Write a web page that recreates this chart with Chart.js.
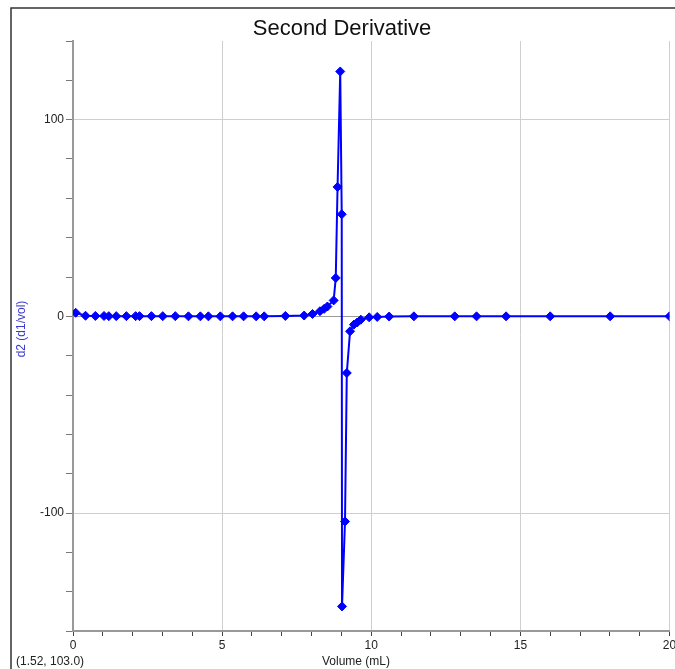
<!DOCTYPE html>
<html>
<head>
<meta charset="utf-8">
<script src="https://cdn.jsdelivr.net/npm/chart.js@4/dist/chart.umd.min.js"></script>
<style>
  html, body { margin: 0; padding: 0; background: #fff; }
  #wrap { width: 675px; height: 669px; }
</style>
</head>
<body>
<div id="wrap"><canvas id="chart" width="675" height="669"></canvas></div>
<script>
const volume = [0.09, 0.42, 0.75, 1.04, 1.20, 1.45, 1.79, 2.10, 2.23, 2.63,
  3.01, 3.43, 3.87, 4.27, 4.54, 4.94, 5.35, 5.72, 6.14, 6.41,
  7.12, 7.75, 8.03, 8.28, 8.42, 8.53, 8.74, 8.81, 8.87, 8.96,
  9.01, 9.02, 9.12, 9.18, 9.29, 9.42, 9.53, 9.65, 9.93, 10.2,
  10.6, 11.43, 12.8, 13.53, 14.52, 16.0, 18.01, 20.0];
const d2 = [1.8, 0.3, 0.2, 0.2, 0.1, 0.1, 0.1, 0.1, 0.1, 0.1,
  0.1, 0.1, 0, 0, 0, 0, 0, 0, 0, 0,
  0.2, 0.4, 1.2, 2.6, 3.8, 5.0, 8.1, 19.5, 65.8, 124.5,
  51.9, -147.5, -104.3, -28.8, -7.6, -4.2, -3.1, -1.7, -0.5, -0.3,
  -0.1, 0, 0, 0, 0, 0, 0, 0];

const chartTitle = "Second Derivative";
const xLabel = "Volume (mL)";
const yLabel = "d2 (d1/vol)";
const cursorText = "(1.52, 103.0)";

const xMin = 0, xMax = 20, xStep = 1, xMajor = 5;
const yMin = -160, yMax = 140, yStep = 20, yMajor = 100;

const FONT = "'Liberation Sans', Arial, sans-serif";

// frame, title and the free-standing labels
const decor = {
  id: "decor",
  beforeDraw(chart) {
    const ctx = chart.ctx;
    ctx.save();
    ctx.fillStyle = "#fff";
    ctx.fillRect(0, 0, chart.width, chart.height);
    ctx.restore();
  },
  afterDraw(chart) {
    const ctx = chart.ctx;
    ctx.save();
    ctx.strokeStyle = "#333";
    ctx.lineWidth = 1.5;
    ctx.strokeRect(11, 8, chart.width + 10, chart.height + 10);

    ctx.fillStyle = "#111";
    ctx.font = "22px " + FONT;
    ctx.textAlign = "center";
    ctx.textBaseline = "alphabetic";
    ctx.fillText(chartTitle, 342, 35);

    ctx.font = "12px " + FONT;
    ctx.fillStyle = "#222";
    ctx.fillText(xLabel, 356, 665);
    ctx.textAlign = "left";
    ctx.fillText(cursorText, 16, 665);

    ctx.translate(25, 329);
    ctx.rotate(-Math.PI / 2);
    ctx.textAlign = "center";
    ctx.fillStyle = "#3a3acc";
    ctx.fillText(yLabel, 0, 0);
    ctx.restore();
  }
};

const points = volume.map((v, i) => ({ x: v, y: d2[i] }));

new Chart(document.getElementById("chart").getContext("2d"), {
  type: "line",
  data: {
    datasets: [{
      data: points,
      borderColor: "#0000ff",
      backgroundColor: "#0000ff",
      borderWidth: 2,
      tension: 0,
      pointStyle: "rectRot",
      pointRadius: 4.5,
      pointBorderWidth: 1,
      pointBackgroundColor: "#0000ff",
      pointBorderColor: "#0000ff"
    }]
  },
  options: {
    responsive: false,
    animation: false,
    events: [],
    layout: { padding: { left: 0, top: 41, right: 3, bottom: 0 } },
    plugins: { legend: { display: false }, tooltip: { enabled: false }, title: { display: false } },
    scales: {
      x: {
        type: "linear",
        min: xMin, max: xMax,
        afterFit(s) { s.height = 38; s.paddingLeft = 0; s.paddingRight = 0; },
        ticks: {
          stepSize: xStep, autoSkip: false, maxRotation: 0, padding: 2,
          color: "#222", font: { family: FONT, size: 12 },
          callback: (v) => (v % xMajor === 0 ? String(v) : "")
        },
        grid: {
          tickLength: 5,
          tickColor: "#444",
          color: (c) => (c.tick && c.tick.value % xMajor === 0 && c.tick.value !== 0 ? "#cfcfcf" : "rgba(0,0,0,0)")
        },
        border: { color: "#999", width: 2 }
      },
      y: {
        min: yMin, max: yMax,
        afterFit(s) { s.width = 73; s.paddingTop = 0; s.paddingBottom = 0; },
        ticks: {
          stepSize: yStep, autoSkip: false, padding: 2,
          color: "#222", font: { family: FONT, size: 12 },
          callback: (v) => (v % yMajor === 0 && v !== yMin && v !== yMax ? String(v) : "")
        },
        grid: {
          tickLength: 7,
          tickColor: "#777",
          color: (c) => {
            if (!c.tick) return "rgba(0,0,0,0)";
            if (c.tick.value === 0) return "#9a9a9a";
            return c.tick.value % yMajor === 0 ? "#cfcfcf" : "rgba(0,0,0,0)";
          }
        },
        border: { color: "#999", width: 2 }
      }
    }
  },
  plugins: [decor]
});
</script>
</body>
</html>
